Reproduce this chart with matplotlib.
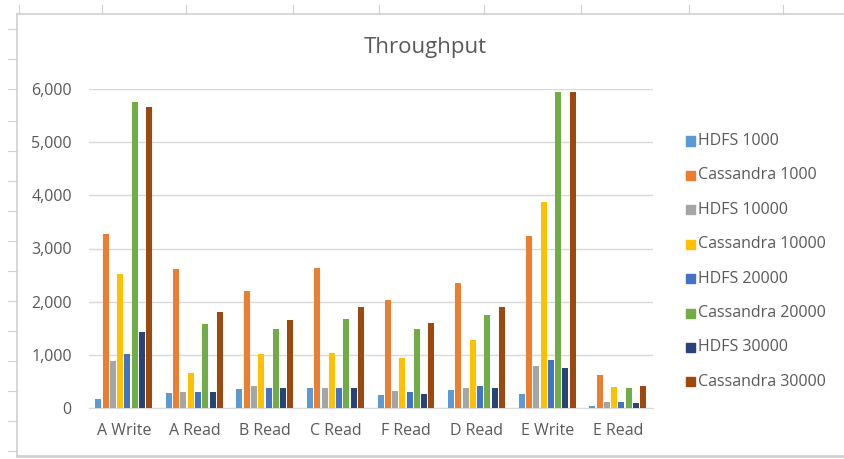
import numpy as np
from matplotlib import pyplot as plt
from matplotlib.lines import Line2D
from matplotlib.ticker import FuncFormatter

# data
categories = ['A Write', 'A Read', 'B Read', 'C Read', 'F Read', 'D Read', 'E Write', 'E Read']
series_names = ['HDFS 1000', 'Cassandra 1000', 'HDFS 10000', 'Cassandra 10000',
                'HDFS 20000', 'Cassandra 20000', 'HDFS 30000', 'Cassandra 30000']

hdfs_1000 = [160, 280, 360, 380, 240, 330, 265, 40]
cass_1000 = [3270, 2610, 2200, 2630, 2030, 2350, 3230, 615]
hdfs_10000 = [880, 300, 415, 380, 320, 380, 785, 120]
cass_10000 = [2520, 660, 1010, 1040, 935, 1280, 3880, 390]
hdfs_20000 = [1020, 300, 380, 380, 295, 415, 900, 120]
cass_20000 = [5750, 1575, 1480, 1680, 1480, 1740, 5940, 385]
hdfs_30000 = [1430, 300, 380, 380, 265, 380, 760, 90]
cass_30000 = [5660, 1805, 1650, 1905, 1590, 1905, 5940, 415]

values = [hdfs_1000, cass_1000, hdfs_10000, cass_10000,
          hdfs_20000, cass_20000, hdfs_30000, cass_30000]
colors = ['#5B9BD5', '#ED7D31', '#A5A5A5', '#FFC000',
          '#4472C4', '#70AD47', '#264478', '#9E480E']

plt.rcParams['font.family'] = ['Open Sans', 'DejaVu Sans']

W, H = 844, 459
fig = plt.figure(figsize=(W / 100, H / 100), dpi=100)

# plot area in pixels: x 88..653, y 89 (6000) .. 408 (0)
ax = fig.add_axes([88.5 / W, (H - 408) / H, (653 - 88.5) / W, (408 - 89) / H])

x = np.arange(len(categories))
slot = 0.103
bw = 0.085
for i, (name, vals) in enumerate(zip(series_names, values)):
    ax.bar(x + (i - 3.5) * slot, vals, width=bw, color=colors[i], label=name, zorder=3)

ax.set_xlim(-0.5, len(categories) - 0.5)
ax.set_ylim(0, 6000)
ax.set_yticks(np.arange(0, 7000, 1000))
ax.yaxis.set_major_formatter(FuncFormatter(lambda v, p: f'{int(v):,}'))
ax.grid(axis='y', color='#D9D9D9', linewidth=1, zorder=0)
ax.set_xticks(x)
ax.set_xticklabels(categories)
for s in ['top', 'right', 'left']:
    ax.spines[s].set_visible(False)
ax.spines['bottom'].set_color('#D9D9D9')
ax.tick_params(axis='both', length=0, colors='#595959', labelsize=11.5)
ax.tick_params(axis='y', pad=12)
ax.tick_params(axis='x', pad=11)

fig.text(425 / W, 1 - 47 / H, 'Throughput', ha='center', va='center',
         fontsize=16, color='#595959')

# legend
leg_y = [141 + k * 34.4 for k in range(8)]
for k, name in enumerate(series_names):
    fig.patches.append(plt.Rectangle((686 / W, 1 - (leg_y[k] + 4.5) / H), 9 / W, 9 / H,
                                     transform=fig.transFigure, color=colors[k]))
    fig.text(698 / W, 1 - leg_y[k] / H, name, ha='left', va='center',
             fontsize=11.5, color='#595959')

# faint sheet frame around the chart
fc = '#D0D0D0'
fig.add_artist(Line2D([17 / W, 1], [1 - 14 / H, 1 - 14 / H], color=fc, lw=1.2))
fig.add_artist(Line2D([17 / W, 17 / W], [1 - 14 / H, 1 - 456 / H], color=fc, lw=1.2))
fig.add_artist(Line2D([17 / W, 1], [1 - 456 / H, 1 - 456 / H], color=fc, lw=2))
for tx in [19, 102, 186, 293, 379, 484, 581, 689, 783]:
    fig.add_artist(Line2D([tx / W, tx / W], [1 - 5 / H, 1 - 14 / H], color=fc, lw=0.8))
for ty in [29, 59, 89, 121, 151, 181, 211, 241, 271, 301, 331, 361, 391, 421, 451]:
    fig.add_artist(Line2D([8 / W, 17 / W], [1 - ty / H, 1 - ty / H], color=fc, lw=0.8))

fig.savefig('out.png', dpi=100)
